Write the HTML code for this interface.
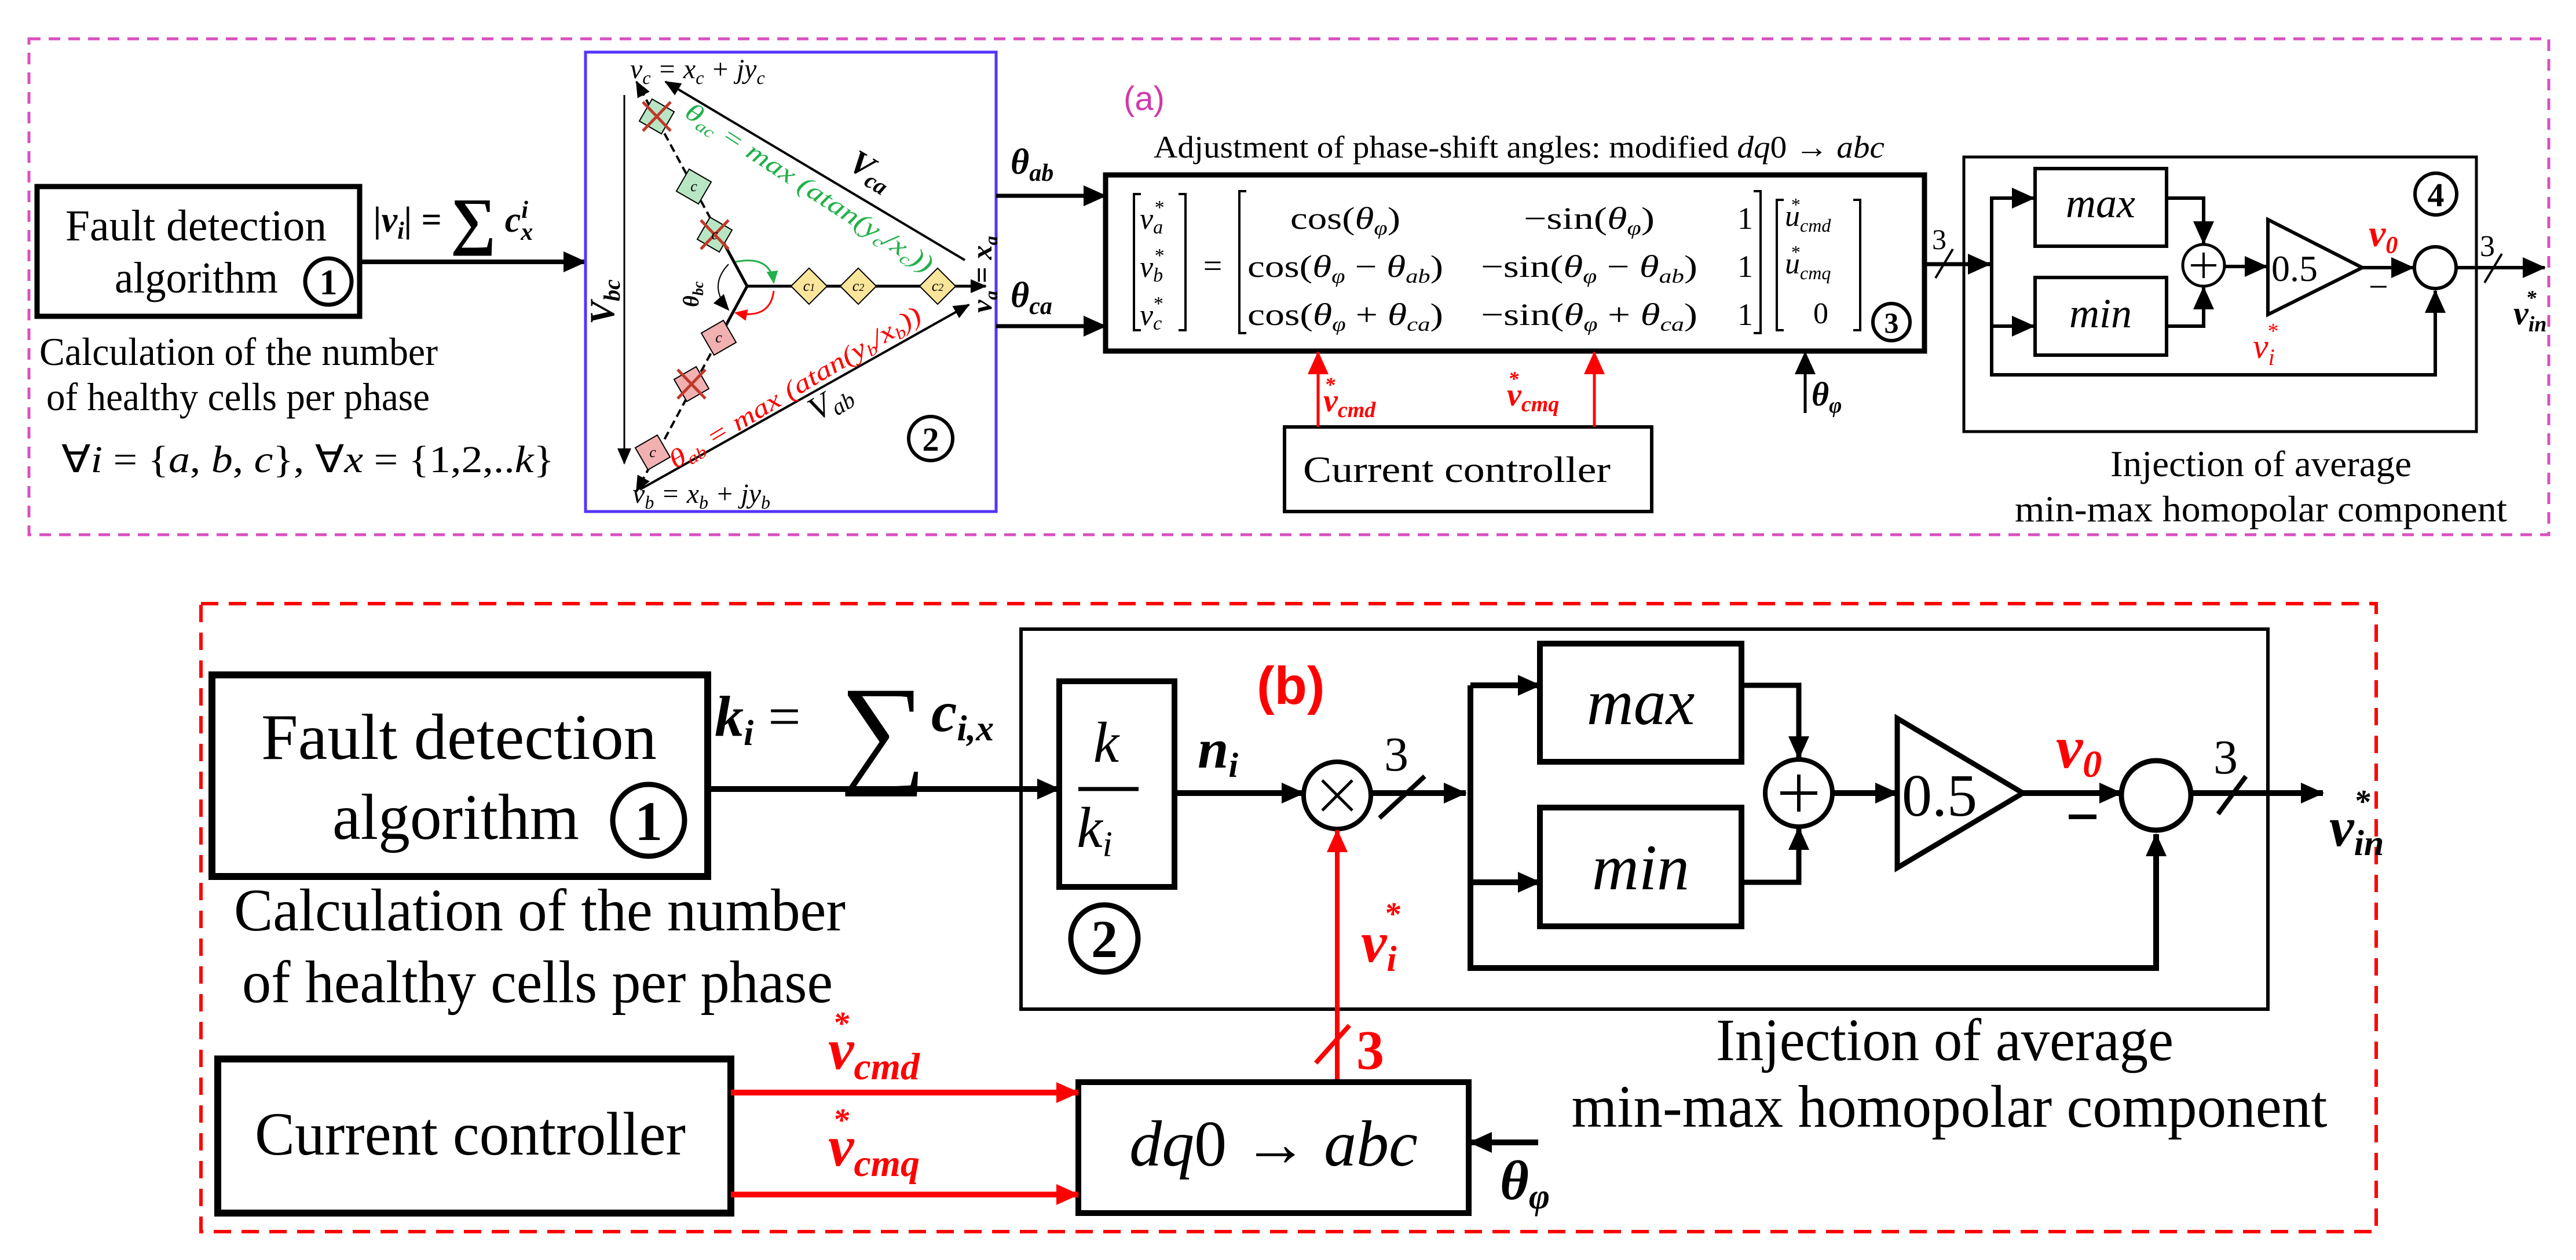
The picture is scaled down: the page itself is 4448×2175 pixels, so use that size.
<!DOCTYPE html>
<html><head><meta charset="utf-8"><style>
html,body{margin:0;padding:0;background:#fff;}
svg{display:block;}
text{font-family:"Liberation Serif",serif;}
.i{font-style:italic;}
.b{font-weight:bold;}
</style></head><body>
<svg xmlns="http://www.w3.org/2000/svg" width="4448" height="2175" viewBox="0 0 4448 2175">
<defs>
<marker id="a" markerWidth="40" markerHeight="36" refX="38" refY="18" orient="auto" markerUnits="userSpaceOnUse"><path d="M0,0 L40,18 L0,36z" fill="#000"/></marker>
<marker id="s" markerWidth="28" markerHeight="24" refX="26" refY="12" orient="auto" markerUnits="userSpaceOnUse"><path d="M0,0 L28,12 L0,24z" fill="#000"/></marker>
<marker id="r" markerWidth="40" markerHeight="36" refX="38" refY="18" orient="auto" markerUnits="userSpaceOnUse"><path d="M0,0 L40,18 L0,36z" fill="#f00"/></marker>
<marker id="g" markerWidth="22" markerHeight="20" refX="20" refY="10" orient="auto" markerUnits="userSpaceOnUse"><path d="M0,0 L22,10 L0,20z" fill="#22b04b"/></marker>
<marker id="rs" markerWidth="22" markerHeight="20" refX="20" refY="10" orient="auto" markerUnits="userSpaceOnUse"><path d="M0,0 L22,10 L0,20z" fill="#f00"/></marker>
</defs>

<!-- ============ TOP (a) ============ -->
<rect x="50" y="67" width="4351" height="856" fill="none" stroke="#d94fbf" stroke-width="5" stroke-dasharray="20 14"/>
<text x="1940" y="190" font-size="58" fill="#d03aaa" font-family="Liberation Sans,sans-serif" style="font-family:'Liberation Sans',sans-serif">(a)</text>

<rect x="64" y="322" width="557" height="224" fill="none" stroke="#000" stroke-width="9"/>
<text x="113" y="415" font-size="76" textLength="451" lengthAdjust="spacingAndGlyphs">Fault detection</text>
<text x="198" y="505" font-size="76" textLength="282" lengthAdjust="spacingAndGlyphs">algorithm</text>
<circle cx="567" cy="486" r="40" fill="none" stroke="#000" stroke-width="7"/>
<text x="567" y="508" font-size="62" font-weight="bold" text-anchor="middle">1</text>
<line x1="621" y1="452" x2="1011" y2="452" stroke="#000" stroke-width="8" marker-end="url(#a)"/>
<text x="645" y="400" font-size="62" class="i b">|v<tspan font-size="42" dy="12">i</tspan><tspan dy="-12">| = </tspan><tspan font-size="110" font-style="normal" dy="18">∑</tspan><tspan dy="-18"> c</tspan><tspan font-size="42" dy="14">x</tspan><tspan font-size="42" dx="-20" dy="-38">i</tspan></text>
<text x="68" y="630" font-size="68" textLength="688" lengthAdjust="spacingAndGlyphs">Calculation of the number</text>
<text x="80" y="708" font-size="68" textLength="662" lengthAdjust="spacingAndGlyphs">of healthy cells per phase</text>
<text x="106" y="815" font-size="66" textLength="851" lengthAdjust="spacingAndGlyphs">∀<tspan class="i">i</tspan> = {<tspan class="i">a</tspan>, <tspan class="i">b</tspan>, <tspan class="i">c</tspan>}, ∀<tspan class="i">x</tspan> = {1,2,..<tspan class="i">k</tspan>}</text>

<!-- blue box -->
<rect x="1011" y="90" width="709" height="793" fill="none" stroke="#5533ff" stroke-width="5"/>
<text x="1088" y="135" font-size="48" class="i">v<tspan font-size="32" dy="10">c</tspan><tspan dy="-10"> = x</tspan><tspan font-size="32" dy="10">c</tspan><tspan dy="-10"> + jy</tspan><tspan font-size="32" dy="10">c</tspan></text>
<text x="1092" y="868" font-size="48" class="i">v<tspan font-size="32" dy="10">b</tspan><tspan dy="-10"> = x</tspan><tspan font-size="32" dy="10">b</tspan><tspan dy="-10"> + jy</tspan><tspan font-size="32" dy="10">b</tspan></text>
<text transform="translate(1712,540) rotate(-90)" font-size="50" class="i b">v<tspan font-size="32" dy="10">a</tspan><tspan dy="-10"> = x</tspan><tspan font-size="32" dy="10">a</tspan></text>
<!-- Vbc -->
<line x1="1078" y1="164" x2="1078" y2="800" stroke="#000" stroke-width="3" marker-end="url(#s)"/>
<text transform="translate(1060,560) rotate(-90)" font-size="60" class="i b">V<tspan font-size="40" dy="10">bc</tspan></text>
<!-- Vca, Vab -->
<line x1="1666" y1="449" x2="1149" y2="141" stroke="#000" stroke-width="4" marker-end="url(#s)"/>
<text transform="translate(1462,290) rotate(31)" font-size="58" class="i b">V<tspan font-size="40" dy="10">ca</tspan></text>
<line x1="1105" y1="845" x2="1673" y2="526" stroke="#000" stroke-width="4" marker-end="url(#s)"/>
<text transform="translate(1410,728) rotate(-31)" font-size="58" class="i">V<tspan font-size="40" dy="10">ab</tspan></text>
<!-- star -->
<line x1="1290" y1="494" x2="1702" y2="494" stroke="#000" stroke-width="5" marker-end="url(#s)"/>
<line x1="1290" y1="494" x2="1099" y2="141" stroke="#000" stroke-width="4" stroke-dasharray="14 8" marker-end="url(#s)"/>
<line x1="1290" y1="494" x2="1099" y2="848" stroke="#000" stroke-width="4" stroke-dasharray="14 8" marker-end="url(#s)"/>
<line x1="1290" y1="494" x2="1250" y2="420" stroke="#000" stroke-width="5"/>
<line x1="1290" y1="494" x2="1250" y2="568" stroke="#000" stroke-width="5"/>
<g stroke="#000" stroke-width="2">
<g fill="#fbe59a">
<rect x="1375" y="472" width="44" height="44" transform="rotate(45 1397 494)"/>
<rect x="1460" y="472" width="44" height="44" transform="rotate(45 1482 494)"/>
<rect x="1597" y="472" width="44" height="44" transform="rotate(45 1619 494)"/>
</g>
<g fill="#b8e6c4">
<rect x="1212" y="383" width="44" height="44" transform="rotate(30 1234 405)"/>
<rect x="1176" y="300" width="44" height="44" transform="rotate(30 1198 322)"/>
<rect x="1112" y="179" width="44" height="44" transform="rotate(30 1134 201)"/>
</g>
<g fill="#f2b1b1">
<rect x="1219" y="561" width="44" height="44" transform="rotate(-30 1241 583)"/>
<rect x="1172" y="641" width="44" height="44" transform="rotate(-30 1194 663)"/>
<rect x="1105" y="759" width="44" height="44" transform="rotate(-30 1127 781)"/>
</g>
</g>
<g stroke="#c0392b" stroke-width="5">
<line x1="1210" y1="380" x2="1258" y2="430"/><line x1="1258" y1="380" x2="1210" y2="430"/>
<line x1="1110" y1="176" x2="1158" y2="226"/><line x1="1158" y1="176" x2="1110" y2="226"/>
<line x1="1170" y1="638" x2="1218" y2="688"/><line x1="1218" y1="638" x2="1170" y2="688"/>
</g>
<g font-size="26" class="i" text-anchor="middle">
<text x="1397" y="502">c<tspan font-size="18">1</tspan></text><text x="1482" y="502">c<tspan font-size="18">2</tspan></text><text x="1619" y="502">c<tspan font-size="18">2</tspan></text>
<text x="1234" y="413">c</text><text x="1198" y="330">c</text><text x="1241" y="591">c</text><text x="1127" y="789">c</text>
</g>
<path d="M1270,452 Q1330,440 1336,488" fill="none" stroke="#22b04b" stroke-width="3" marker-end="url(#g)"/>
<path d="M1336,502 Q1330,552 1270,540" fill="none" stroke="#f00" stroke-width="3" marker-end="url(#rs)"/>
<path d="M1258,456 Q1222,494 1258,535" fill="none" stroke="#000" stroke-width="2" marker-end="url(#s)"/>
<text transform="translate(1206,530) rotate(-90)" font-size="38" class="i b">θ<tspan font-size="26" dy="8">bc</tspan></text>
<text transform="translate(1180,200) rotate(33)" font-size="44" fill="#22b04b" class="i" textLength="500" lengthAdjust="spacingAndGlyphs">θ<tspan font-size="28" dy="8">ac</tspan><tspan dy="-8"> = max (atan(y</tspan><tspan font-size="28" dy="8">c</tspan><tspan dy="-8">/x</tspan><tspan font-size="28" dy="8">c</tspan><tspan dy="-8">))</tspan></text>
<text transform="translate(1166,810) rotate(-31)" font-size="44" fill="#f00" class="i" textLength="500" lengthAdjust="spacingAndGlyphs">θ<tspan font-size="28" dy="8">ab</tspan><tspan dy="-8"> = max (atan(y</tspan><tspan font-size="28" dy="8">b</tspan><tspan dy="-8">/x</tspan><tspan font-size="28" dy="8">b</tspan><tspan dy="-8">))</tspan></text>
<circle cx="1607" cy="757" r="38" fill="none" stroke="#000" stroke-width="6"/>
<text x="1607" y="778" font-size="58" font-weight="bold" text-anchor="middle">2</text>

<!-- theta arrows -->
<line x1="1720" y1="338" x2="1909" y2="338" stroke="#000" stroke-width="7" marker-end="url(#a)"/>
<line x1="1720" y1="563" x2="1909" y2="563" stroke="#000" stroke-width="7" marker-end="url(#a)"/>
<text x="1745" y="300" font-size="62" class="i b">θ<tspan font-size="42" dy="12">ab</tspan></text>
<text x="1745" y="530" font-size="62" class="i b">θ<tspan font-size="42" dy="12">ca</tspan></text>

<!-- matrix -->
<text x="1992" y="272" font-size="54" textLength="1262" lengthAdjust="spacingAndGlyphs">Adjustment of phase-shift angles: modified <tspan class="i">dq</tspan>0 → <tspan class="i">abc</tspan></text>
<rect x="1909" y="302" width="1414" height="304" fill="none" stroke="#000" stroke-width="9"/>
<g fill="none" stroke="#000" stroke-width="4">
<path d="M1970,335 h-12 v235 h12"/><path d="M2035,335 h12 v235 h-12"/>
<path d="M2152,330 h-12 v245 h12"/><path d="M3028,330 h12 v245 h-12"/>
<path d="M3080,345 h-12 v225 h12"/><path d="M3200,345 h12 v225 h-12"/>
</g>
<g font-size="52" class="i">
<text x="1968" y="395">v<tspan font-size="34" dy="8">a</tspan><tspan font-size="34" dx="-16" dy="-34">*</tspan></text>
<text x="1968" y="478">v<tspan font-size="34" dy="8">b</tspan><tspan font-size="34" dx="-16" dy="-34">*</tspan></text>
<text x="1968" y="561">v<tspan font-size="34" dy="8">c</tspan><tspan font-size="34" dx="-16" dy="-34">*</tspan></text>
<text x="3082" y="390">u<tspan font-size="32" dy="10">cmd</tspan><tspan font-size="32" dx="-70" dy="-36">*</tspan></text>
<text x="3082" y="472">u<tspan font-size="32" dy="10">cmq</tspan><tspan font-size="32" dx="-70" dy="-36">*</tspan></text>
</g>
<text x="3144" y="558" font-size="52" text-anchor="middle">0</text>
<text x="2094" y="478" font-size="58" text-anchor="middle">=</text>
<g font-size="54">
<text x="2228" y="395" textLength="190" lengthAdjust="spacingAndGlyphs">cos(<tspan class="i">θ</tspan><tspan class="i" font-size="34" dy="10">φ</tspan><tspan dy="-10">)</tspan></text>
<text x="2154" y="478" textLength="338" lengthAdjust="spacingAndGlyphs">cos(<tspan class="i">θ</tspan><tspan class="i" font-size="34" dy="10">φ</tspan><tspan dy="-10"> − </tspan><tspan class="i">θ</tspan><tspan class="i" font-size="34" dy="10">ab</tspan><tspan dy="-10">)</tspan></text>
<text x="2154" y="561" textLength="338" lengthAdjust="spacingAndGlyphs">cos(<tspan class="i">θ</tspan><tspan class="i" font-size="34" dy="10">φ</tspan><tspan dy="-10"> + </tspan><tspan class="i">θ</tspan><tspan class="i" font-size="34" dy="10">ca</tspan><tspan dy="-10">)</tspan></text>
<text x="2631" y="395" textLength="226" lengthAdjust="spacingAndGlyphs">−sin(<tspan class="i">θ</tspan><tspan class="i" font-size="34" dy="10">φ</tspan><tspan dy="-10">)</tspan></text>
<text x="2557" y="478" textLength="374" lengthAdjust="spacingAndGlyphs">−sin(<tspan class="i">θ</tspan><tspan class="i" font-size="34" dy="10">φ</tspan><tspan dy="-10"> − </tspan><tspan class="i">θ</tspan><tspan class="i" font-size="34" dy="10">ab</tspan><tspan dy="-10">)</tspan></text>
<text x="2557" y="561" textLength="374" lengthAdjust="spacingAndGlyphs">−sin(<tspan class="i">θ</tspan><tspan class="i" font-size="34" dy="10">φ</tspan><tspan dy="-10"> + </tspan><tspan class="i">θ</tspan><tspan class="i" font-size="34" dy="10">ca</tspan><tspan dy="-10">)</tspan></text>
<text x="3000" y="395">1</text><text x="3000" y="478">1</text><text x="3000" y="561">1</text>
</g>
<circle cx="3266" cy="556" r="32" fill="none" stroke="#000" stroke-width="6"/>
<text x="3266" y="574" font-size="50" font-weight="bold" text-anchor="middle">3</text>

<!-- current controller top -->
<rect x="2218" y="737" width="634" height="146" fill="none" stroke="#000" stroke-width="6"/>
<text x="2250" y="832" font-size="64" textLength="531" lengthAdjust="spacingAndGlyphs">Current controller</text>
<line x1="2276" y1="737" x2="2276" y2="608" stroke="#f00" stroke-width="5" marker-end="url(#r)"/>
<line x1="2753" y1="737" x2="2753" y2="608" stroke="#f00" stroke-width="5" marker-end="url(#r)"/>
<line x1="3117" y1="713" x2="3117" y2="608" stroke="#000" stroke-width="5" marker-end="url(#a)"/>
<text x="2285" y="710" font-size="56" fill="#f00" class="i b">v<tspan font-size="38" dy="10">cmd</tspan><tspan font-size="36" dx="-88" dy="-44">*</tspan></text>
<text x="2602" y="700" font-size="56" fill="#f00" class="i b">v<tspan font-size="38" dy="10">cmq</tspan><tspan font-size="36" dx="-88" dy="-44">*</tspan></text>
<text x="3128" y="700" font-size="58" class="i b">θ<tspan font-size="38" dy="12">φ</tspan></text>

<!-- block 4 -->
<rect x="3391" y="271" width="885" height="474" fill="none" stroke="#000" stroke-width="5"/>
<line x1="3323" y1="456" x2="3436" y2="456" stroke="#000" stroke-width="7" marker-end="url(#a)"/>
<line x1="3342" y1="480" x2="3372" y2="430" stroke="#000" stroke-width="4"/>
<text x="3336" y="430" font-size="50">3</text>
<polyline points="3514,342 3439,342 3439,647 4205,647 4205,502" fill="none" stroke="#000" stroke-width="6" marker-end="url(#a)"/>
<line x1="3439" y1="342" x2="3512" y2="342" stroke="#000" stroke-width="6" marker-end="url(#a)"/>
<line x1="3439" y1="563" x2="3512" y2="563" stroke="#000" stroke-width="6" marker-end="url(#a)"/>
<rect x="3514" y="291" width="227" height="134" fill="none" stroke="#000" stroke-width="6"/>
<rect x="3514" y="479" width="227" height="134" fill="none" stroke="#000" stroke-width="6"/>
<text x="3627" y="375" font-size="72" class="i" text-anchor="middle">max</text>
<text x="3627" y="565" font-size="72" class="i" text-anchor="middle">min</text>
<polyline points="3741,342 3805,342 3805,420" fill="none" stroke="#000" stroke-width="6" marker-end="url(#a)"/>
<polyline points="3741,563 3805,563 3805,496" fill="none" stroke="#000" stroke-width="6" marker-end="url(#a)"/>
<circle cx="3805" cy="458" r="36" fill="none" stroke="#000" stroke-width="5"/>
<path d="M3783,458 h44 M3805,436 v44" stroke="#000" stroke-width="4"/>
<line x1="3841" y1="460" x2="3914" y2="460" stroke="#000" stroke-width="6" marker-end="url(#a)"/>
<polygon points="3916,379 3916,543 4079,462" fill="none" stroke="#000" stroke-width="6"/>
<text x="3922" y="485" font-size="64">0.5</text>
<line x1="4079" y1="462" x2="4167" y2="462" stroke="#000" stroke-width="6" marker-end="url(#a)"/>
<text x="4090" y="425" font-size="66" fill="#f00" class="i b">v<tspan font-size="42" dy="12">0</tspan></text>
<text x="4090" y="515" font-size="60">−</text>
<circle cx="4205" cy="462" r="36" fill="none" stroke="#000" stroke-width="6"/>
<circle cx="4206" cy="335" r="36" fill="none" stroke="#000" stroke-width="6"/>
<text x="4206" y="356" font-size="58" font-weight="bold" text-anchor="middle">4</text>
<text x="3890" y="618" font-size="60" fill="#f00" class="i">v<tspan font-size="40" dy="12">i</tspan><tspan font-size="38" dx="-14" dy="-46">*</tspan></text>
<line x1="4241" y1="462" x2="4394" y2="462" stroke="#000" stroke-width="6" marker-end="url(#a)"/>
<line x1="4290" y1="488" x2="4320" y2="438" stroke="#000" stroke-width="4"/>
<text x="4282" y="442" font-size="52">3</text>
<text x="4340" y="560" font-size="58" class="i b">v<tspan font-size="38" dy="12">in</tspan><tspan font-size="36" dx="-36" dy="-46">*</tspan></text>
<text x="3904" y="822" font-size="64" text-anchor="middle" textLength="520" lengthAdjust="spacingAndGlyphs">Injection of average</text>
<text x="3904" y="900" font-size="64" text-anchor="middle" textLength="850" lengthAdjust="spacingAndGlyphs">min-max homopolar component</text>

<!-- ============ BOTTOM (b) ============ -->
<rect x="347" y="1042" width="3756" height="1084" fill="none" stroke="#f00" stroke-width="6" stroke-dasharray="30 18"/>
<rect x="366" y="1165" width="856" height="348" fill="none" stroke="#000" stroke-width="12"/>
<text x="451" y="1310" font-size="112" textLength="683" lengthAdjust="spacingAndGlyphs">Fault detection</text>
<text x="574" y="1448" font-size="112" textLength="426" lengthAdjust="spacingAndGlyphs">algorithm</text>
<circle cx="1120" cy="1416" r="62" fill="none" stroke="#000" stroke-width="9"/>
<text x="1120" y="1450" font-size="96" font-weight="bold" text-anchor="middle">1</text>
<text x="404" y="1606" font-size="104" textLength="1056" lengthAdjust="spacingAndGlyphs">Calculation of the number</text>
<text x="418" y="1730" font-size="104" textLength="1020" lengthAdjust="spacingAndGlyphs">of healthy cells per phase</text>
<line x1="1222" y1="1362" x2="1829" y2="1362" stroke="#000" stroke-width="10" marker-end="url(#a)"/>
<text x="1234" y="1270" font-size="100" class="i b">k<tspan font-size="62" dy="16">i</tspan><tspan dy="-16" font-style="normal" font-weight="normal"> = </tspan></text>
<text x="1450" y="1330" font-size="210">∑</text>
<text x="1608" y="1262" font-size="100" class="i b">c<tspan font-size="62" dy="16">i,x</tspan></text>

<rect x="1763" y="1086" width="2153" height="656" fill="none" stroke="#000" stroke-width="6"/>
<rect x="1829" y="1176" width="199" height="355" fill="none" stroke="#000" stroke-width="10"/>
<text x="1910" y="1315" font-size="100" class="i" text-anchor="middle">k</text>
<line x1="1862" y1="1362" x2="1966" y2="1362" stroke="#000" stroke-width="7"/>
<text x="1890" y="1462" font-size="100" class="i" text-anchor="middle">k<tspan font-size="62" dy="16">i</tspan></text>
<circle cx="1907" cy="1620" r="58" fill="none" stroke="#000" stroke-width="9"/>
<text x="1907" y="1652" font-size="92" font-weight="bold" text-anchor="middle">2</text>
<text x="2068" y="1325" font-size="96" class="i b">n<tspan font-size="60" dy="16">i</tspan></text>
<text x="2170" y="1215" font-size="92" fill="#f00" font-weight="bold" style="font-family:'Liberation Sans',sans-serif">(b)</text>
<line x1="2028" y1="1369" x2="2251" y2="1369" stroke="#000" stroke-width="10" marker-end="url(#a)"/>
<circle cx="2309" cy="1373" r="58" fill="none" stroke="#000" stroke-width="8"/>
<path d="M2283,1347 L2335,1399 M2335,1347 L2283,1399" stroke="#000" stroke-width="5"/>
<line x1="2367" y1="1369" x2="2531" y2="1369" stroke="#000" stroke-width="10" marker-end="url(#a)"/>
<line x1="2382" y1="1412" x2="2460" y2="1340" stroke="#000" stroke-width="8"/>
<text x="2390" y="1330" font-size="84">3</text>

<polyline points="2539,1183 2539,1671 3723,1671 3723,1440" fill="none" stroke="#000" stroke-width="10" marker-end="url(#a)"/>
<line x1="2539" y1="1183" x2="2659" y2="1183" stroke="#000" stroke-width="10" marker-end="url(#a)"/>
<line x1="2539" y1="1523" x2="2659" y2="1523" stroke="#000" stroke-width="10" marker-end="url(#a)"/>
<rect x="2659" y="1111" width="348" height="204" fill="none" stroke="#000" stroke-width="10"/>
<rect x="2659" y="1394" width="348" height="205" fill="none" stroke="#000" stroke-width="10"/>
<text x="2833" y="1250" font-size="112" class="i" text-anchor="middle">max</text>
<text x="2833" y="1535" font-size="112" class="i" text-anchor="middle">min</text>
<polyline points="3007,1183 3106,1183 3106,1309" fill="none" stroke="#000" stroke-width="9" marker-end="url(#a)"/>
<polyline points="3007,1523 3106,1523 3106,1429" fill="none" stroke="#000" stroke-width="9" marker-end="url(#a)"/>
<circle cx="3106" cy="1369" r="58" fill="none" stroke="#000" stroke-width="8"/>
<path d="M3074,1369 h64 M3106,1337 v64" stroke="#000" stroke-width="6"/>
<line x1="3164" y1="1369" x2="3276" y2="1369" stroke="#000" stroke-width="10" marker-end="url(#a)"/>
<polygon points="3276,1240 3276,1498 3493,1369" fill="none" stroke="#000" stroke-width="9"/>
<text x="3284" y="1408" font-size="104">0.5</text>
<line x1="3493" y1="1369" x2="3663" y2="1369" stroke="#000" stroke-width="10" marker-end="url(#a)"/>
<text x="3550" y="1325" font-size="104" fill="#f00" class="i b">v<tspan font-size="66" dy="16">0</tspan></text>
<line x1="3572" y1="1410" x2="3620" y2="1410" stroke="#000" stroke-width="8"/>
<circle cx="3723" cy="1373" r="60" fill="none" stroke="#000" stroke-width="9"/>
<line x1="3783" y1="1369" x2="4011" y2="1369" stroke="#000" stroke-width="10" marker-end="url(#a)"/>
<line x1="3830" y1="1405" x2="3878" y2="1340" stroke="#000" stroke-width="8"/>
<text x="3822" y="1335" font-size="84">3</text>
<text x="4022" y="1460" font-size="96" class="i b">v<tspan font-size="62" dy="16">in</tspan><tspan font-size="56" dx="-52" dy="-74">*</tspan></text>
<text x="3358" y="1830" font-size="104" text-anchor="middle" textLength="790" lengthAdjust="spacingAndGlyphs">Injection of average</text>
<text x="3366" y="1945" font-size="104" text-anchor="middle" textLength="1305" lengthAdjust="spacingAndGlyphs">min-max homopolar component</text>

<!-- dq0 -->
<line x1="2309" y1="1868" x2="2309" y2="1433" stroke="#f00" stroke-width="8" marker-end="url(#r)"/>
<line x1="2272" y1="1835" x2="2330" y2="1770" stroke="#f00" stroke-width="8"/>
<text x="2342" y="1845" font-size="96" fill="#f00" font-weight="bold">3</text>
<text x="2350" y="1660" font-size="100" fill="#f00" class="i b">v<tspan font-size="62" dy="16">i</tspan><tspan font-size="56" dx="-22" dy="-80">*</tspan></text>
<rect x="1862" y="1868" width="674" height="226" fill="none" stroke="#000" stroke-width="10"/>
<text x="2199" y="2012" font-size="112" class="i" text-anchor="middle">dq<tspan font-style="normal">0 → </tspan>abc</text>
<line x1="2656" y1="1972" x2="2538" y2="1972" stroke="#000" stroke-width="10" marker-end="url(#a)"/>
<text x="2590" y="2070" font-size="96" class="i b">θ<tspan font-size="62" dy="16">φ</tspan></text>
<rect x="376" y="1828" width="886" height="266" fill="none" stroke="#000" stroke-width="12"/>
<text x="440" y="1993" font-size="106" textLength="744" lengthAdjust="spacingAndGlyphs">Current controller</text>
<line x1="1262" y1="1886" x2="1862" y2="1886" stroke="#f00" stroke-width="10" marker-end="url(#r)"/>
<line x1="1262" y1="2062" x2="1862" y2="2062" stroke="#f00" stroke-width="10" marker-end="url(#r)"/>
<text x="1430" y="1845" font-size="100" fill="#f00" class="i b">v<tspan font-size="66" dy="18">cmd</tspan><tspan font-size="56" dx="-150" dy="-78">*</tspan></text>
<text x="1430" y="2012" font-size="100" fill="#f00" class="i b">v<tspan font-size="66" dy="18">cmq</tspan><tspan font-size="56" dx="-150" dy="-78">*</tspan></text>
</svg>
</body></html>
